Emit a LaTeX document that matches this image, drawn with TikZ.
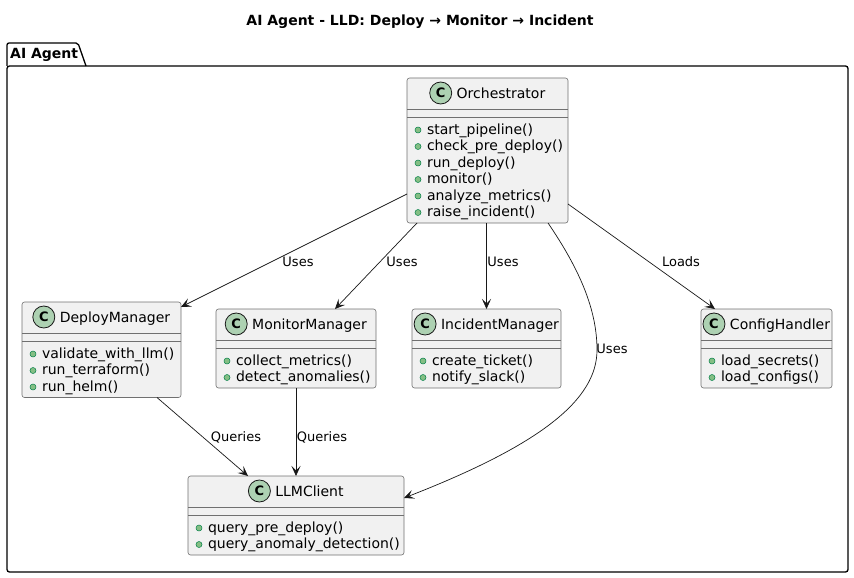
\documentclass[tikz,border=0pt]{standalone}
\usepackage{fontspec}
\setmainfont{DejaVu Sans}
\usetikzlibrary{arrows.meta, positioning}

\definecolor{classfill}{HTML}{F1F1F1}
\definecolor{classline}{HTML}{181818}
\definecolor{boxline}{HTML}{707070}
\definecolor{iconfill}{HTML}{ADD1B2}
\definecolor{dotfill}{HTML}{84BE84}
\definecolor{dotline}{HTML}{038048}

\tikzset{
  classbox/.style={draw=boxline, fill=classfill, rounded corners=2.5pt, line width=0.6pt, inner sep=0pt, outer sep=0pt},
  classsep/.style={draw=boxline, line width=0.6pt},
  classname/.style={inner sep=0pt, outer sep=0pt, text height=10.2pt, text depth=0pt, font=\fontsize{14}{16}\selectfont},
  classicon/.style={circle, draw=classline, fill=iconfill, line width=0.8pt, minimum size=22pt, inner sep=0pt, outer sep=0pt, font=\bfseries\fontsize{13}{15}\selectfont},
  methdot/.style={circle, draw=dotline, fill=dotfill, line width=0.5pt, minimum size=6pt, inner sep=0pt, outer sep=0pt},
  method/.style={inner sep=0pt, outer sep=0pt, text height=11pt, text depth=2.5pt, font=\fontsize{14}{16}\selectfont},
  rel/.style={draw=classline, line width=0.7pt, -{Stealth[length=10pt, width=9pt, inset=4.5pt]}},
  lbl/.style={inner sep=0pt, text height=9.5pt, text depth=0pt, font=\fontsize{13}{15}\selectfont},
  pkgline/.style={draw=black, line width=1.3pt},
}

% name, x, y, width, number of methods, title, methods
\newcommand{\umlclass}[7]{%
  \pgfmathsetmacro\clsh{62.5+(#5-1)*16.5}
  \node[classbox, minimum width=#4pt, minimum height=\clsh pt, anchor=north west] (#1) at (#2,#3) {};
  \draw[classsep] ([yshift=-31.5pt]#1.north west) -- ([yshift=-31.5pt]#1.north east);
  \draw[classsep] ([yshift=-39.5pt]#1.north west) -- ([yshift=-39.5pt]#1.north east);
  \node[classname] (#1-name) at ([xshift=13.5pt, yshift=-15pt]#1.north) {#6};
  \node[classicon, left=5pt of #1-name] (#1-icon) {C};
  \foreach \m [count=\i] in {#7} {
    \node[methdot] (#1-dot\i) at ([xshift=11pt, yshift={-52pt-(\i-1)*16.5pt}]#1.north west) {};
    \node[method, anchor=west, right=6pt of #1-dot\i] (#1-m\i) {\m};
  }
}

\begin{document}
\begin{tikzpicture}[x=1pt, y=-1pt]
  \useasboundingbox (0,0) rectangle (854,578);

  % title
  \node[inner sep=0pt, text height=10.2pt, text depth=0pt, font=\bfseries\fontsize{14}{16}\selectfont] (title) at (420,20) {AI Agent - LLD: Deploy → Monitor → Incident};

  % package
  \node[pkgline, rounded corners=2.5pt, minimum width=841pt, minimum height=506pt, inner sep=0pt, outer sep=0pt, anchor=north west] (pkg) at (7,66) {};
  \draw[pkgline, rounded corners=2pt] (pkg.north west) -- ([yshift=23pt]pkg.north west)
     -- ([xshift=71pt, yshift=23pt]pkg.north west) -- ([xshift=79pt]pkg.north west);
  \node[anchor=west, inner sep=0pt, text height=10.2pt, text depth=0pt, font=\bfseries\fontsize{14}{16}\selectfont] (pkg-name) at ([xshift=3pt, yshift=13pt]pkg.north west) {AI Agent};

  % classes
  \umlclass{orch}{407}{78}{161}{6}{Orchestrator}{start\_pipeline(), check\_pre\_deploy(), run\_deploy(), monitor(), analyze\_metrics(), raise\_incident()}
  \umlclass{dm}{22}{302}{159}{3}{DeployManager}{validate\_with\_llm(), run\_terraform(), run\_helm()}
  \umlclass{mm}{216}{309}{160}{2}{MonitorManager}{collect\_metrics(), detect\_anomalies()}
  \umlclass{im}{412}{309}{149}{2}{IncidentManager}{create\_ticket(), notify\_slack()}
  \umlclass{ch}{701}{309}{131}{2}{ConfigHandler}{load\_secrets(), load\_configs()}
  \umlclass{llm}{188}{476}{216}{2}{LLMClient}{query\_pre\_deploy(), query\_anomaly\_detection()}

  % relations
  \coordinate (bend) at (597,350);
  \draw[rel] ([yshift=29pt]orch.south west) -- ([yshift=-5pt]dm.north east);
  \draw[rel] ([xshift=10pt]orch.south west) -- ([xshift=119pt]mm.north west);
  \draw[rel] (orch.south -| im.north) -- (im.north);
  \draw[rel] ([xshift=-20pt]orch.south east) .. controls (580,270) and (597,310) .. (bend)
     .. controls (597,400) and (540,445) .. ([yshift=-22pt]llm.north east);
  \draw[rel] ([yshift=19pt]orch.south east) -- ([xshift=14pt]ch.north west);
  \draw[rel] ([xshift=135pt]dm.south west) -- ([xshift=60pt]llm.north west);
  \draw[rel] (mm.south) -- (mm.south |- llm.north);

  \node[lbl] (l-dm) at (298,262) {Uses};
  \node[lbl] (l-mm) at (402,262) {Uses};
  \node[lbl] (l-im) at (503,262) {Uses};
  \node[lbl] (l-llm) at (612,349) {Uses};
  \node[lbl] (l-ch) at (681,262) {Loads};
  \node[lbl] (l-q1) at (236,437) {Queries};
  \node[lbl] (l-q2) at (322,437) {Queries};
\end{tikzpicture}
\end{document}
